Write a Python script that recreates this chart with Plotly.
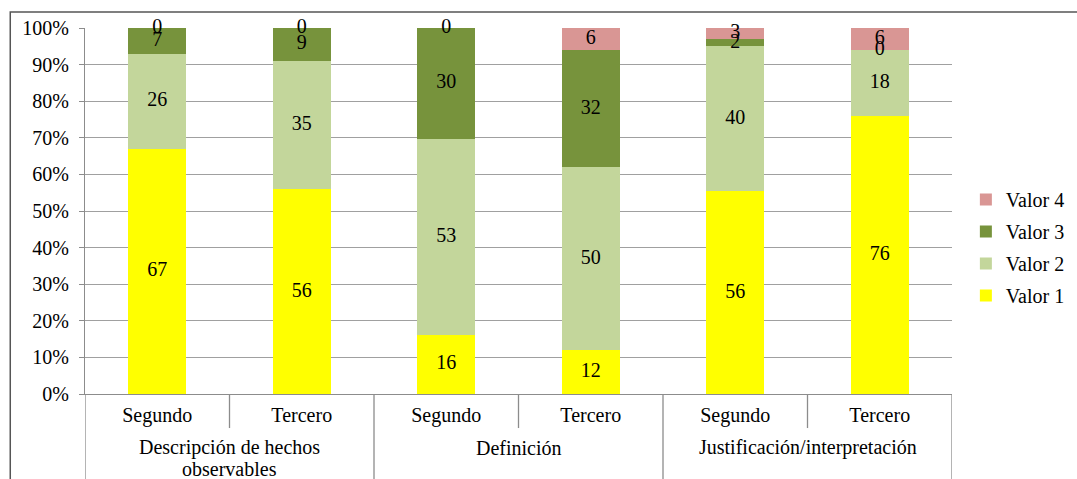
import numpy as np
import plotly.graph_objects as go

groups = [["Descripción de hechos", "observables"], ["Definición"], ["Justificación/interpretación"]]
subcats = ["Segundo", "Tercero", "Segundo", "Tercero", "Segundo", "Tercero"]
series_names = ["Valor 1", "Valor 2", "Valor 3", "Valor 4"]
valor1 = [67, 56, 16, 12, 56, 76]
valor2 = [26, 35, 53, 50, 40, 18]
valor3 = [7, 9, 30, 32, 2, 0]
valor4 = [0, 0, 0, 6, 3, 6]
colors = ["#FFFF00", "#C3D69B", "#77933C", "#D99694"]

FONT = "Liberation Serif"
FS = 20

vals = np.array([valor1, valor2, valor3, valor4], dtype=float)
tot = vals.sum(axis=0)
pct = vals / tot * 100
cum = np.cumsum(pct, axis=0)
mid = cum - pct / 2
xs = np.arange(len(subcats))

fig = go.Figure()
for i, name in enumerate(series_names):
    fig.add_trace(go.Bar(x=xs, y=pct[i], name=name, marker=dict(color=colors[i], line=dict(width=0)),
                         width=0.4, legendgroup=name, legendrank=1000 - i, hoverinfo="skip"))
for i in range(len(series_names)):
    fig.add_trace(go.Scatter(x=xs, y=mid[i], mode="text", text=[str(int(v)) for v in vals[i]],
                             textposition="middle center", textfont=dict(family=FONT, size=FS, color="black"),
                             showlegend=False, hoverinfo="skip", cliponaxis=False))

# group labels and dividers
for g, lines in enumerate(groups):
    for k, line in enumerate(lines):
        fig.add_annotation(x=2 * g + 0.5, y=-0.147 - 0.057 * k, xref="x", yref="paper", text=line, showarrow=False,
                           yanchor="middle", xanchor="center", font=dict(family=FONT, size=FS, color="black"))
for b in [-0.5, 1.5, 3.5, 5.5]:
    fig.add_shape(type="line", xref="x", yref="paper", x0=b, x1=b, y0=0, y1=-0.3,
                  line=dict(color="#8c8c8c", width=1.3))
for b in [0.5, 2.5, 4.5]:
    fig.add_shape(type="line", xref="x", yref="paper", x0=b, x1=b, y0=0, y1=-0.093,
                  line=dict(color="#8c8c8c", width=1.3))
# outer frame
fig.add_shape(type="rect", xref="paper", yref="paper", x0=-0.0862, x1=1.2, y0=-0.4, y1=1.0437,
              line=dict(color="#555555", width=1.5), layer="below")

fig.update_layout(
    width=1077, height=479,
    margin=dict(l=85, r=125, t=28, b=85, autoexpand=False),
    paper_bgcolor="white", plot_bgcolor="white",
    barmode="stack", bargap=0.6,
    font=dict(family=FONT, size=FS, color="black"),
    legend=dict(x=1.016, xanchor="left", y=0.40, yanchor="middle", traceorder="grouped",
                tracegroupgap=3, font=dict(family=FONT, size=FS, color="black"), itemwidth=30),
    xaxis=dict(range=[-0.5, 5.5], tickvals=xs, ticktext=subcats, showgrid=False, zeroline=False,
               showline=True, linecolor="#8c8c8c", linewidth=1.3, ticks="", ticklabelstandoff=3,
               tickfont=dict(family=FONT, size=FS, color="black")),
    yaxis=dict(range=[0, 100], dtick=10, ticksuffix="%", showgrid=True, gridcolor="#a0a0a0", gridwidth=1.3,
               zeroline=False, showline=True, linecolor="#8c8c8c", linewidth=1.3, ticks="outside",
               ticklen=5, tickcolor="#8c8c8c", ticklabelstandoff=6,
               tickfont=dict(family=FONT, size=FS, color="black")),
)
fig.write_html("out.html")
